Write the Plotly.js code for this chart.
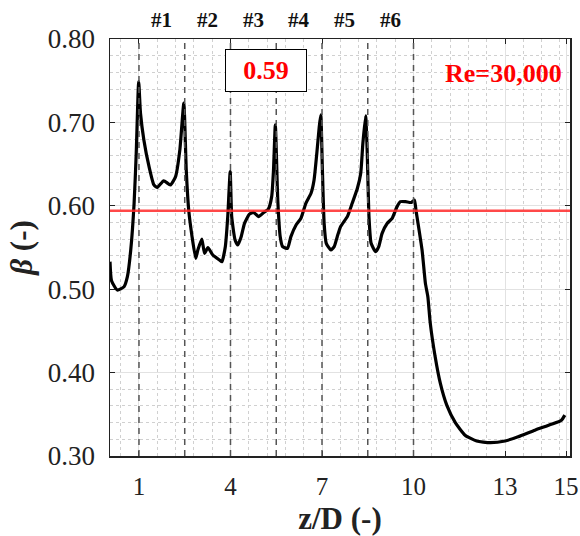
<!DOCTYPE html>
<html>
<head>
<meta charset="utf-8">
<script src="https://cdn.plot.ly/plotly-3.0.1.min.js"></script>
<style>html,body{margin:0;padding:0;background:#fff}#chart{width:580px;height:536px}</style>
</head>
<body>
<div id="chart"></div>
<script>
var zD = [0.05,0.1,0.29,0.51,0.62,0.73,0.84,0.91,0.99,1.05,1.16,1.33,1.49,1.60,1.81,2.03,2.20,2.34,2.47,2.55,2.63,2.74,2.86,2.93,3.06,3.15,3.26,3.42,3.64,3.72,3.83,3.91,3.99,4.04,4.15,4.24,4.35,4.46,4.62,4.76,4.92,5.09,5.24,5.35,5.41,5.47,5.55,5.63,5.71,5.87,5.98,6.15,6.31,6.47,6.64,6.74,6.83,6.91,6.96,7.01,7.07,7.14,7.29,7.40,7.50,7.61,7.83,7.99,8.16,8.27,8.34,8.43,8.48,8.54,8.61,8.76,8.86,8.97,9.14,9.30,9.46,9.57,9.74,9.93,10.03,10.08,10.28,10.39,10.47,10.55,10.71,10.88,11.09,11.37,11.69,12.07,12.51,13.0,13.43,13.98,14.52,14.85,14.96];
var beta = [0.533,0.510,0.499,0.503,0.515,0.547,0.603,0.663,0.749,0.711,0.679,0.647,0.625,0.622,0.630,0.625,0.635,0.667,0.723,0.643,0.595,0.563,0.537,0.547,0.560,0.543,0.550,0.541,0.535,0.533,0.551,0.587,0.641,0.587,0.559,0.553,0.563,0.579,0.590,0.592,0.587,0.592,0.596,0.611,0.643,0.697,0.607,0.563,0.551,0.549,0.563,0.577,0.585,0.603,0.615,0.631,0.663,0.695,0.709,0.647,0.579,0.555,0.547,0.551,0.563,0.575,0.587,0.603,0.621,0.639,0.675,0.708,0.667,0.587,0.555,0.545,0.551,0.567,0.579,0.585,0.599,0.605,0.605,0.604,0.607,0.595,0.547,0.507,0.491,0.459,0.419,0.387,0.361,0.340,0.325,0.318,0.316,0.318,0.323,0.331,0.338,0.343,0.349];
var dividerZ = [1, 2.5, 4, 5.5, 7, 8.5, 10];
var sectionLabels = ['#1','#2','#3','#4','#5','#6'];
var meanBeta = 0.594;
var meanLabel = '0.59';
var reLabel = 'Re=30,000';
var xTicks = [1, 4, 7, 10, 13, 15];
var yTicks = [0.30, 0.40, 0.50, 0.60, 0.70, 0.80];

var FONT = '"Times New Roman", "Liberation Serif", serif';

var shapes = dividerZ.map(function(z){
  return {type:'line', xref:'x', yref:'paper', x0:z, x1:z, y0:0, y1:1,
          line:{color:'#555', width:1.5, dash:'6px,5px'}, layer:'above'};
});
shapes.push({type:'line', xref:'paper', yref:'y', x0:0, x1:1, y0:meanBeta, y1:meanBeta,
             line:{color:'rgba(255,40,40,0.85)', width:2.5}, layer:'above'});

var annotations = sectionLabels.map(function(t, i){
  return {text:'<b>'+t+'</b>', xref:'x', yref:'paper', x:(dividerZ[i]+dividerZ[i+1])/2, y:1.046,
          showarrow:false, font:{family:FONT, size:21, color:'#111'}, xanchor:'center', yanchor:'middle'};
});
annotations.push({text:'<b>'+meanLabel+'</b>', xref:'x', yref:'y', x:5.18, y:0.762, showarrow:false,
  font:{family:FONT, size:26, color:'#ff0000'}, bordercolor:'#000', borderwidth:1, bgcolor:'#fff',
  width:78, height:39, xanchor:'center', yanchor:'middle'});
annotations.push({text:'<b>'+reLabel+'</b>', xref:'x', yref:'y', x:12.94, y:0.759, showarrow:false,
  font:{family:FONT, size:26, color:'#ff0000'}, xanchor:'center', yanchor:'middle'});

var trace = {x:zD, y:beta, type:'scatter', mode:'lines',
  line:{color:'#000', width:3.2, shape:'spline', smoothing:0.5}, hoverinfo:'skip'};

var layout = {
  width:580, height:536,
  margin:{l:110, r:10, t:39, b:80},
  paper_bgcolor:'#fff', plot_bgcolor:'#fff',
  showlegend:false,
  font:{family:FONT, color:'#222'},
  xaxis:{
    range:[0.05, 15.13], tickmode:'array', tickvals:xTicks, ticktext:xTicks.map(String),
    ticks:'inside', ticklen:5, tickcolor:'#222', tickwidth:1,
    showline:true, linecolor:'#222', linewidth:1.5, mirror:'ticks',
    showgrid:true, gridcolor:'#e2e2e2', gridwidth:1, zeroline:false,
    tickfont:{family:FONT, size:25, color:'#222'}, ticklabelstandoff:7, ticklabeloverflow:'allow',
    minor:{tick0:1, dtick:0.6, showgrid:true, gridcolor:'#d0d0d0', griddash:'dot', gridwidth:1, ticks:''},
    title:{text:'<b>z/D (-)</b>', font:{family:FONT, size:31, color:'#222'}, standoff:9},
    automargin:false
  },
  yaxis:{
    range:[0.30, 0.80], tickmode:'array', tickvals:yTicks, ticktext:yTicks.map(function(v){return v.toFixed(2);}),
    ticks:'inside', ticklen:5, tickcolor:'#222', tickwidth:1,
    showline:true, linecolor:'#222', linewidth:1.5, mirror:'ticks',
    showgrid:true, gridcolor:'#e2e2e2', gridwidth:1, zeroline:false,
    tickfont:{family:FONT, size:27, color:'#222'}, ticklabelstandoff:8, ticklabeloverflow:'allow',
    minor:{tick0:0.30, dtick:0.02, showgrid:true, gridcolor:'#d0d0d0', griddash:'dot', gridwidth:1, ticks:''},
    title:{text:'<b><i>β</i> (-)</b>', font:{family:FONT, size:31, color:'#222'}, standoff:6},
    automargin:false
  },
  shapes:shapes,
  annotations:annotations
};

Plotly.newPlot('chart', [trace], layout, {staticPlot:true, displayModeBar:false});
</script>
</body>
</html>
